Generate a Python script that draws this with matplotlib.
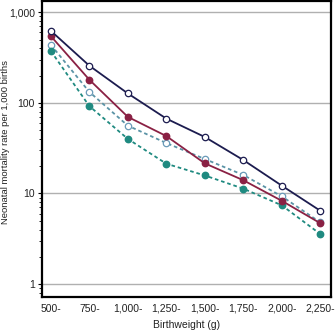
import matplotlib
matplotlib.use("Agg")
import matplotlib.pyplot as plt
from matplotlib.ticker import FixedLocator, LogLocator, NullFormatter

categories = ["500-", "750-", "1,000-", "1,250-", "1,500-", "1,750-", "2,000-", "2,250-"]
series_a = [623, 257, 127, 67, 42, 23.4, 12.2, 6.45]   # navy, open circles, solid
series_b = [545, 180, 70, 43, 21.5, 14, 8.3, 4.7]      # crimson, filled, solid
series_c = [437, 132, 56, 36, 24, 16, 9.3, 4.8]        # light teal, open circles, dashed
series_d = [373, 92, 40, 21.3, 15.8, 11.3, 7.4, 3.57]  # teal, filled, dashed
y_ticks = [1, 10, 100, 1000]
y_tick_labels = ["1", "10", "100", "1,000"]

plt.rcParams["font.family"] = ["Liberation Sans", "DejaVu Sans"]

fig = plt.figure(figsize=(3.36, 3.31), dpi=100)
ax = fig.add_axes([42 / 336, 34 / 331, 289 / 336, 296 / 331])

x = list(range(len(categories)))
ax.plot(x, series_a, color="#1c1c4f", lw=1.3, marker="o", ms=4.6,
        mfc="white", mec="#1c1c4f", mew=0.9, zorder=5)
ax.plot(x, series_b, color="#8a2144", lw=1.3, marker="o", ms=4.6,
        mfc="#8a2144", mec="#8a2144", zorder=4)
ax.plot(x, series_c, color="#5a93a6", lw=1.3, ls=(0, (2, 1.6)), marker="o", ms=4.6,
        mfc="white", mec="#6a9ab8", mew=0.9, zorder=3)
ax.plot(x, series_d, color="#1f8a80", lw=1.3, ls=(0, (2, 1.6)), marker="o", ms=4.6,
        mfc="#1f8a80", mec="#1f8a80", zorder=3)

ax.set_yscale("log")
ax.set_ylim(0.72, 1330)
ax.set_xlim(-0.23, 7.28)
ax.yaxis.set_major_locator(FixedLocator(y_ticks))
ax.set_yticklabels(y_tick_labels)
ax.yaxis.set_minor_locator(LogLocator(base=10, subs=range(2, 10)))
ax.yaxis.set_minor_formatter(NullFormatter())
ax.set_xticks(x)
ax.set_xticklabels(categories)
ax.tick_params(axis="x", length=0, labelsize=7.5, pad=5, labelcolor="#222222")
ax.tick_params(axis="y", which="major", length=3, width=0.8, labelsize=7.5, pad=2,
               labelcolor="#222222")
ax.tick_params(axis="y", which="minor", length=2, width=0.6)

ax.grid(axis="y", which="major", color="#b0b0b0", lw=1.0, zorder=0)
for s in ax.spines.values():
    s.set_linewidth(1.6)

ax.set_xlabel("Birthweight (g)", fontsize=7.5, labelpad=4, color="#222222")
ax.set_ylabel("Neonatal mortality rate per 1,000 births", fontsize=6.8, color="#222222")
ax.yaxis.set_label_coords(-0.112, 0.524)

fig.savefig("out.png", dpi=100)
